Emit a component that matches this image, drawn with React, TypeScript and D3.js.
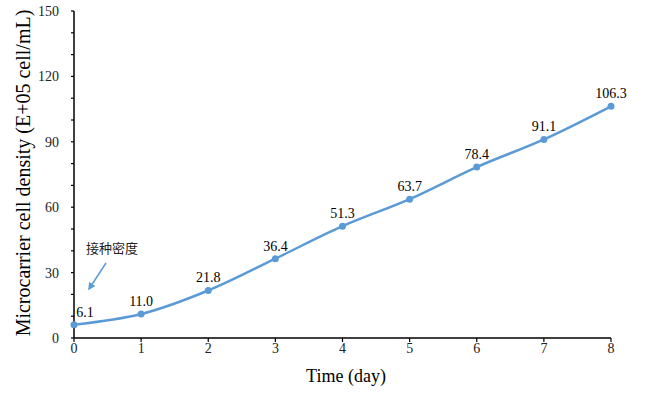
import React from "react";
import * as d3 from "d3";

const days = [0, 1, 2, 3, 4, 5, 6, 7, 8];
const density = [6.1, 11.0, 21.8, 36.4, 51.3, 63.7, 78.4, 91.1, 106.3];
const yTicks = [0, 30, 60, 90, 120, 150];
const yMinor = d3.range(0, 151, 10);

const W = 650, H = 394;
const x0 = 74, x1 = 611, y0 = 338, y1 = 11;

export default function App() {
  const x = d3.scaleLinear().domain([0, 8]).range([x0, x1]);
  const y = d3.scaleLinear().domain([0, 150]).range([y0, y1]);
  const line = d3
    .line<number>()
    .x((_, i) => x(days[i]))
    .y((d) => y(d))
    .curve(d3.curveCatmullRom.alpha(0.5));
  const color = "#5B9BD5";
  const serif = "'Liberation Serif', 'Times New Roman', serif";
  return (
    <svg width={W} height={H} style={{ position: "absolute", left: 0, top: 0, background: "#fff" }}>
      <defs>
        <marker id="ah" viewBox="0 0 10 10" refX="8" refY="5" markerWidth="5" markerHeight="5" orient="auto">
          <path d="M0,0 L10,5 L0,10 z" fill={color} />
        </marker>
      </defs>
      {/* y axis */}
      <line x1={x0} x2={x0} y1={y1} y2={y0} stroke="#000" strokeWidth={1.5} />
      {yMinor.map((t) => (
        <line key={"m" + t} x1={x0 - 3} x2={x0} y1={y(t)} y2={y(t)} stroke="#000" strokeWidth={1.2} />
      ))}
      {yTicks.map((t) => (
        <text key={"y" + t} x={x0 - 15} y={y(t) + 5} textAnchor="end" fontFamily={serif} fontSize={14} fill="#222">
          {t}
        </text>
      ))}
      {/* x axis */}
      <line x1={x0} x2={x1} y1={y0} y2={y0} stroke="#000" strokeWidth={1.5} />
      {days.map((d) => (
        <g key={"x" + d}>
          <line x1={x(d)} x2={x(d)} y1={y0} y2={y0 + 4} stroke="#000" strokeWidth={1.2} />
          <text x={x(d)} y={y0 + 15} textAnchor="middle" fontFamily={serif} fontSize={14} fill="#222">
            {d}
          </text>
        </g>
      ))}
      <text x={346} y={382} textAnchor="middle" fontFamily={serif} fontSize={18}>
        Time (day)
      </text>
      <text
        transform={`translate(30, 173) rotate(-90)`}
        textAnchor="middle"
        fontFamily={serif}
        fontSize={20}
      >
        Microcarrier cell density (E+05 cell/mL)
      </text>
      {/* line */}
      <path d={line(density) || ""} fill="none" stroke={color} strokeWidth={2.5} />
      {density.map((v, i) => (
        <g key={"p" + i}>
          <circle cx={x(days[i])} cy={y(v)} r={3.5} fill={color} />
          <text
            x={x(days[i]) + (i === 0 ? 11 : 0)}
            y={y(v) - 8}
            textAnchor="middle"
            fontFamily={serif}
            fontSize={14}
          >
            {v.toFixed(1)}
          </text>
        </g>
      ))}
      {/* annotation */}
      <text x={86} y={253} fontFamily="'Noto Sans CJK SC', sans-serif" fontSize={13} fill="#222">
        接种密度
      </text>
      <line x1={106} y1={263} x2={89} y2={289} stroke={color} strokeWidth={1.5} markerEnd="url(#ah)" />
    </svg>
  );
}
